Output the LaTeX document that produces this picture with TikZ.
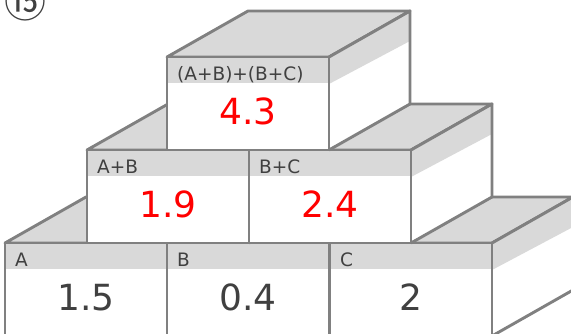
\documentclass[tikz,border=0pt]{standalone}
\usepackage{fontspec}
\setmainfont{DejaVu Sans}
\newfontfamily\cjkfont{Noto Sans CJK JP}
\definecolor{edgecol}{HTML}{808080}
\definecolor{bandcol}{HTML}{D9D9D9}
\definecolor{txtcol}{HTML}{404040}
\definecolor{redcol}{HTML}{FF0000}
\tikzset{
  edge/.style={draw=edgecol, line width=2.9pt, line join=round},
  lab/.style={text=txtcol, font=\fontsize{18.5}{22}\selectfont, inner sep=0pt, anchor=base west},
  num/.style={font=\fontsize{36}{40}\selectfont, inner sep=0pt, anchor=base},
}
\newcommand\boxcube[6]{%
 \begin{scope}[shift={(#1,#2)}]
  \fill[bandcol] (0,0) -- (81,-46) -- (243,-46) -- (162,0) -- cycle;
  \draw[edge] (0,0) -- (81,-46) -- (243,-46) -- (162,0) -- cycle;
  \fill[white] (162,0) -- (243,-46) -- (243,47) -- (162,93) -- cycle;
  \fill[bandcol] (162,0) -- (243,-46) -- (243,-16) -- (162,27) -- cycle;
  \draw[edge] (162,0) -- (243,-46) -- (243,47) -- (162,93);
  \fill[white] (0,0) rectangle (162,93);
  \fill[bandcol] (0,0) rectangle (162,26);
  \draw[edge] (0,0) rectangle (162,93);
  \node[lab] (#3l) at (10,23) {#4};
  \node[num, text=#6] (#3v) at (81,67) {#5};
 \end{scope}}
\begin{document}
\begin{tikzpicture}[x=1pt,y=-1pt]
\useasboundingbox (0,0) rectangle (571,333);
\boxcube{5}{243}{a}{A}{1.5}{txtcol}
\boxcube{167}{243}{b}{B}{0.4}{txtcol}
\boxcube{330}{243}{c}{C}{2}{txtcol}
\boxcube{87}{150}{ab}{A+B}{1.9}{redcol}
\boxcube{249}{150}{bc}{B+C}{2.4}{redcol}
\boxcube{167}{57}{abc}{(A+B)+(B+C)}{4.3}{redcol}
\node[text=txtcol, font=\cjkfont\fontsize{42}{46}\selectfont, inner sep=0pt] (num) at (26,2) {⑮};
\end{tikzpicture}
\end{document}
